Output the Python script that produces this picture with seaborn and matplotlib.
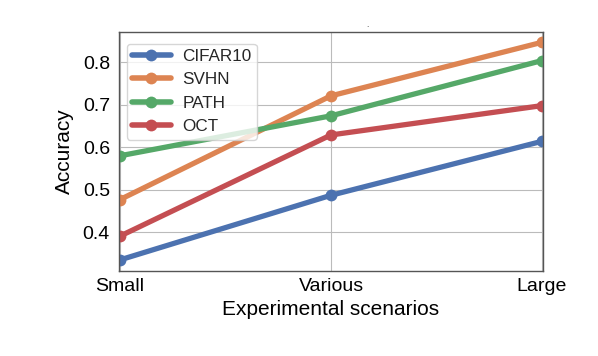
import matplotlib
matplotlib.use("Agg")
import matplotlib.pyplot as plt
import seaborn as sns
import pandas as pd

scenarios = ["Small", "Various", "Large"]
cifar10 = [0.335, 0.487, 0.614]
svhn = [0.477, 0.721, 0.847]
path = [0.580, 0.674, 0.804]
oct_ = [0.391, 0.629, 0.698]
series_names = ["CIFAR10", "SVHN", "PATH", "OCT"]

rows = []
for name, vals in zip(series_names, [cifar10, svhn, path, oct_]):
    for s, v in zip(scenarios, vals):
        rows.append({"Scenario": s, "Accuracy": v, "Dataset": name})
df = pd.DataFrame(rows)

sns.set_theme(style="whitegrid", palette="deep")
plt.rcParams["font.family"] = ["Liberation Sans", "DejaVu Sans"]

fig = plt.figure(figsize=(5.98, 3.56), dpi=100)
ax = fig.add_axes([0.199, 0.239, 0.709, 0.672])
sns.lineplot(data=df, x="Scenario", y="Accuracy", hue="Dataset", marker="o",
             linewidth=3.8, markersize=8.5, markeredgewidth=0, ax=ax, sort=False)

ax.set_ylim(0.309, 0.872)
ax.set_xlim(-0.005, 2.005)
ax.set_yticks([0.4, 0.5, 0.6, 0.7, 0.8])
ax.tick_params(axis="both", labelsize=14, colors="black", pad=3)
ax.tick_params(axis="y", length=3.5, width=0.8, color="#555555")
ax.tick_params(axis="x", length=0, pad=5)
ax.set_xlabel("Experimental scenarios", fontsize=15, color="black", labelpad=4)
ax.set_ylabel("Accuracy", fontsize=15, color="black", labelpad=6)
for sp in ax.spines.values():
    sp.set_color("#555555")
    sp.set_linewidth(1.0)
ax.grid(True, color="#bbbbbb", linewidth=0.8)
leg = ax.legend(loc="upper left", bbox_to_anchor=(0.0, 0.982),
                fontsize=12.3, title=None, frameon=True,
                handlelength=2.3, borderaxespad=0.45, handletextpad=0.65,
                labelspacing=0.5, borderpad=0.3)
for line in leg.get_lines():
    line.set_linewidth(4.0)
fig.text(0.614, 0.925, ".", fontsize=6, ha="center")
fig.savefig("out.png", dpi=100)
